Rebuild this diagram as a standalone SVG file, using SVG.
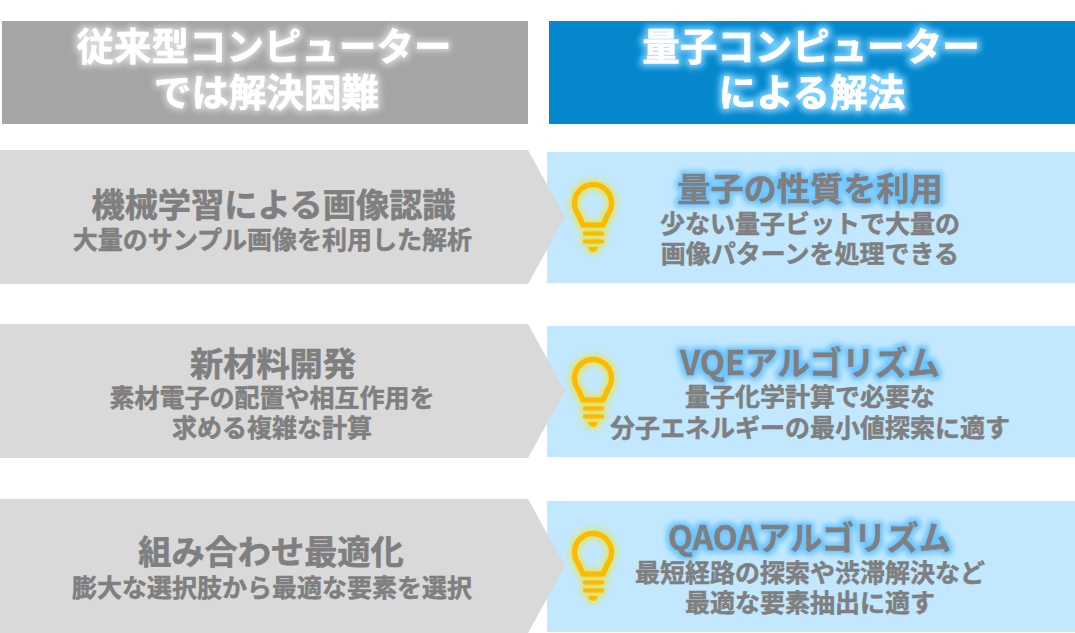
<svg xmlns="http://www.w3.org/2000/svg" width="1075" height="633" viewBox="0 0 1075 633">
<style>
text{font-family:"Noto Sans CJK JP","Noto Sans",sans-serif;font-weight:700;text-anchor:middle}
.head{font-size:37.500px;fill:#fff;stroke:#fff;stroke-width:.6}
.t{font-size:33.200px;fill:#7f7f7f;stroke:#7f7f7f;stroke-width:.6}
.s{font-size:25px;fill:#7f7f7f;stroke:#7f7f7f;stroke-width:.5}
.g1{fill:#a5a5a5}.b1{fill:#0487cc}.g2{fill:#d9d9d9}.b2{fill:#c1e8fe}
.bulb{fill:none;stroke:#fbbc04;stroke-width:5.500;stroke-linecap:round;stroke-linejoin:round}
</style>
<defs>
<filter id="gw" x="-15%" y="-30%" width="130%" height="160%"><feMorphology in="SourceAlpha" operator="dilate" radius="2" result="d"/><feGaussianBlur in="d" stdDeviation="3.200" result="b"/><feFlood flood-color="#fff" flood-opacity=".55"/><feComposite in2="b" operator="in"/><feMerge><feMergeNode/><feMergeNode in="SourceGraphic"/></feMerge></filter>
<filter id="gb" x="-15%" y="-30%" width="130%" height="160%"><feMorphology in="SourceAlpha" operator="dilate" radius="2.500" result="d"/><feGaussianBlur in="d" stdDeviation="3" result="b"/><feFlood flood-color="#7cd0ff"/><feComposite in2="b" operator="in"/><feMerge><feMergeNode/><feMergeNode in="SourceGraphic"/></feMerge></filter>
<filter id="gt" x="-15%" y="-30%" width="130%" height="160%"><feMorphology in="SourceAlpha" operator="dilate" radius="3" result="d"/><feGaussianBlur in="d" stdDeviation="2.500" result="b"/><feFlood flood-color="#6cc5ff"/><feComposite in2="b" operator="in"/><feMerge><feMergeNode/><feMergeNode in="SourceGraphic"/></feMerge></filter>
<filter id="gy" x="-40%" y="-30%" width="180%" height="160%"><feMorphology in="SourceAlpha" operator="dilate" radius="2" result="d"/><feGaussianBlur in="d" stdDeviation="3" result="b"/><feFlood flood-color="#e0e66a"/><feComposite in2="b" operator="in"/><feMerge><feMergeNode/><feMergeNode in="SourceGraphic"/></feMerge></filter>
<g id="bulbicon" filter="url(#gy)"><path class="bulb" d="M583 225L577.700 213.500A18.500 18.500 0 1 1 608.300 213.500L603 225Z"/><path class="bulb" style="stroke-width:4.500" d="M585 233.500H602M585 241.500H602"/><path d="M588 247H598Q597 252 593 252Q589 252 588 247Z" fill="#fbbc04"/></g>
</defs>
<g id="connectors"></g>
<g id="head-left"><rect class="g1" x="2" y="21" width="526" height="103"/><text class="head" x="264" y="60" filter="url(#gw)">従来型コンピューター</text><text class="head" x="266.500" y="106" filter="url(#gw)">では解決困難</text></g>
<g id="head-right"><rect class="b1" x="549" y="21" width="526" height="103"/><text class="head" x="811" y="60" filter="url(#gb)">量子コンピューター</text><text class="head" x="812" y="106" filter="url(#gb)">による解法</text></g>
<g id="solution-1"><rect class="b2" x="547" y="152" width="528" height="131"/><use href="#bulbicon"/><text class="t" x="810" y="201" filter="url(#gt)">量子の性質を利用</text><text class="s" x="810" y="233">少ない量子ビットで大量の</text><text class="s" x="810" y="263">画像パターンを処理できる</text></g>
<g id="solution-2"><rect class="b2" x="547" y="326" width="528" height="131"/><use href="#bulbicon" y="175"/><text class="t" x="810" y="375" filter="url(#gt)" textLength="260" lengthAdjust="spacingAndGlyphs">VQEアルゴリズム</text><text class="s" x="810" y="406">量子化学計算で必要な</text><text class="s" x="810" y="437">分子エネルギーの最小値探索に適す</text></g>
<g id="solution-3"><rect class="b2" x="547" y="501" width="528" height="131"/><use href="#bulbicon" y="349"/><text class="t" x="809.500" y="550" filter="url(#gt)" textLength="283" lengthAdjust="spacingAndGlyphs">QAOAアルゴリズム</text><text class="s" x="810" y="582">最短経路の探索や渋滞解決など</text><text class="s" x="810" y="612">最適な要素抽出に適す</text></g>
<g id="problem-1"><path class="g2" d="M0 150H528L565 217L528 284H0Z"/><text class="t" x="273.500" y="217">機械学習による画像認識</text><text class="s" x="272.500" y="249">大量のサンプル画像を利用した解析</text></g>
<g id="problem-2"><path class="g2" d="M0 324H528L565 391L528 458H0Z"/><text class="t" x="273" y="376">新材料開発</text><text class="s" x="272" y="407">素材電子の配置や相互作用を</text><text class="s" x="272" y="437">求める複雑な計算</text></g>
<g id="problem-3"><path class="g2" d="M0 499H528L565 566L528 633H0Z"/><text class="t" x="271" y="564">組み合わせ最適化</text><text class="s" x="272" y="597">膨大な選択肢から最適な要素を選択</text></g>
</svg>
